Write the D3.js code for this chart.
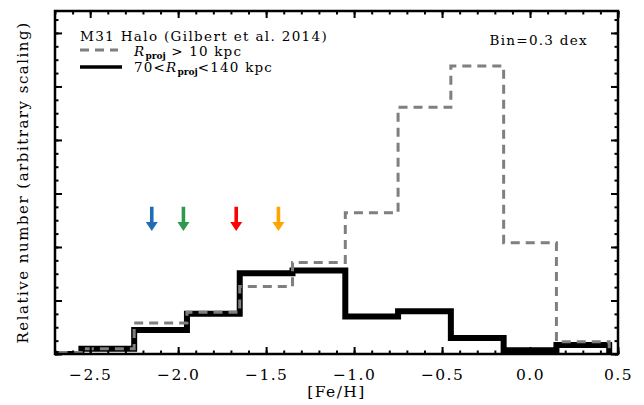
<!DOCTYPE html>
<html>
<head>
<meta charset="utf-8">
<script src="https://cdn.jsdelivr.net/npm/d3@7"></script>
<style>
  body { margin: 0; background: #fff; }
  text { font-family: 'DejaVu Serif', serif; fill: #000; }
</style>
</head>
<body>
<script>
// bin edges in [Fe/H], 0.3 dex wide
const binEdges = [-2.85, -2.55, -2.25, -1.95, -1.65, -1.35, -1.05, -0.75, -0.45, -0.15, 0.15, 0.45]
// R_proj > 10 kpc (grey dashed)
const haloAll = [0.03, 0.10, 0.58, 0.78, 1.26, 1.71, 2.64, 4.61, 5.38, 2.08, 0.23]
// 70 < R_proj < 140 kpc (black)
const haloOuter = [0, 0.10, 0.45, 0.75, 1.51, 1.56, 0.70, 0.80, 0.30, 0.07, 0.17]

const arrowFeH = [-2.15, -1.97, -1.67, -1.43]
const arrowColors = ['#1f6db5', '#2e9a4e', '#ff0000', '#ffa500']

const xTicks = [-2.5, -2.0, -1.5, -1.0, -0.5, 0.0, 0.5]

const margin = { top: 11, right: 26, bottom: 51, left: 55 }
const width = 644 - margin.left - margin.right
const height = 405 - margin.top - margin.bottom

const xScale = d3.scaleLinear().domain([-2.7, 0.5]).range([0, width])
const yScale = d3.scaleLinear().domain([0, 6.41]).range([height, 0])

const svg = d3.select('body').append('svg')
  .attr('width', 644)
  .attr('height', 405)

const g = svg.append('g')
  .attr('transform', 'translate(' + margin.left + ',' + margin.top + ')')

g.append('clipPath').attr('id', 'clip')
  .append('rect').attr('width', width).attr('height', height)

function stepPoints (values) {
  const pts = values.map((v, i) => [binEdges[i], v])
  pts.push([binEdges[binEdges.length - 1], values[values.length - 1]])
  pts.push([binEdges[binEdges.length - 1], 0])
  return pts
}

const line = d3.line()
  .x((d) => xScale(d[0]))
  .y((d) => yScale(d[1]))
  .curve(d3.curveStepAfter)

const plot = g.append('g').attr('clip-path', 'url(#clip)')

plot.append('path')
  .attr('d', line(stepPoints(haloOuter)))
  .attr('fill', 'none')
  .attr('stroke', '#000')
  .attr('stroke-width', 6)

plot.append('path')
  .attr('d', line(stepPoints(haloAll)))
  .attr('fill', 'none')
  .attr('stroke', '#7f7f7f')
  .attr('stroke-width', 3)
  .attr('stroke-dasharray', '9,6')

// arrows
const arrowTop = 2.75
const arrowTip = 2.3
arrowFeH.forEach((feh, i) => {
  const x = xScale(feh)
  const y0 = yScale(arrowTop)
  const y1 = yScale(arrowTip)
  const hw = 6
  const hl = 9
  const sw = 1.8
  const pts = [
    [x - sw, y0], [x + sw, y0], [x + sw, y1 - hl], [x + hw, y1 - hl],
    [x, y1], [x - hw, y1 - hl], [x - sw, y1 - hl]
  ]
  g.append('path')
    .attr('d', d3.line()(pts) + 'Z')
    .attr('fill', arrowColors[i])
})

// axes: ticks inward on all four sides
const xAxisB = d3.axisBottom(xScale).tickValues(xTicks).tickSize(-7).tickPadding(15)
  .tickFormat((d) => d3.format('.1f')(d).replace('-', '\u2212'))
const xMinor = d3.range(-2.7, 0.51, 0.1)
g.append('g').attr('class', 'x axis')
  .attr('transform', 'translate(0,' + height + ')')
  .call(xAxisB)
g.append('g').attr('transform', 'translate(0,' + height + ')')
  .call(d3.axisBottom(xScale).tickValues(xMinor).tickSize(-3.5).tickFormat(''))
g.append('g')
  .call(d3.axisTop(xScale).tickValues(xTicks).tickSize(-7).tickFormat(''))
g.append('g')
  .call(d3.axisTop(xScale).tickValues(xMinor).tickSize(-3.5).tickFormat(''))

const yMajor = d3.range(0, 7, 1)
const yMinor = d3.range(0, 6.41, 0.25)
g.append('g')
  .call(d3.axisLeft(yScale).tickValues(yMajor).tickSize(-7).tickFormat(''))
g.append('g')
  .call(d3.axisLeft(yScale).tickValues(yMinor).tickSize(-3.5).tickFormat(''))
g.append('g').attr('transform', 'translate(' + width + ',0)')
  .call(d3.axisRight(yScale).tickValues(yMajor).tickSize(-7).tickFormat(''))
g.append('g').attr('transform', 'translate(' + width + ',0)')
  .call(d3.axisRight(yScale).tickValues(yMinor).tickSize(-3.5).tickFormat(''))

g.selectAll('.domain').remove()
g.selectAll('.tick line').attr('stroke', '#000').attr('stroke-width', 2)
g.selectAll('.x.axis .tick text')
  .style('font-size', '15.5px')
  .style('letter-spacing', '1.4px')
  .attr('fill', '#000')

g.append('rect')
  .attr('width', width).attr('height', height)
  .attr('fill', 'none').attr('stroke', '#000').attr('stroke-width', 2.5)

// axis labels
g.append('text')
  .attr('x', width / 2).attr('y', height + 43)
  .attr('text-anchor', 'middle')
  .style('font-size', '15.5px')
  .style('letter-spacing', '1.4px')
  .text('[Fe/H]')

svg.append('text')
  .attr('transform', 'translate(28,' + (margin.top + height / 2) + ') rotate(-90)')
  .attr('text-anchor', 'middle')
  .style('font-size', '15px')
  .style('letter-spacing', '1.5px')
  .text('Relative number (arbitrary scaling)')

// legend
const lx = 25
const legendFont = '13.5px'
g.append('text').attr('x', lx).attr('y', 30).style('font-size', legendFont)
  .style('letter-spacing', '1.35px')
  .text('M31 Halo (Gilbert et al. 2014)')
g.append('line').attr('x1', lx).attr('x2', lx + 38).attr('y1', 39).attr('y2', 39)
  .attr('stroke', '#7f7f7f').attr('stroke-width', 3).attr('stroke-dasharray', '9,6')
g.append('line').attr('x1', lx).attr('x2', lx + 42).attr('y1', 56).attr('y2', 56)
  .attr('stroke', '#000').attr('stroke-width', 3.5)

function rprojLabel (y, pre, post) {
  const t = g.append('text').attr('x', lx + 54).attr('y', y).style('font-size', legendFont)
    .style('letter-spacing', '1.2px')
  t.append('tspan').text(pre)
  t.append('tspan').style('font-style', 'italic').text('R')
  t.append('tspan').attr('dy', 3).style('font-size', '9px').style('font-weight', 'bold')
    .style('letter-spacing', '0px').text('proj')
  t.append('tspan').attr('dy', -3).text(post)
}
rprojLabel(44.5, '', ' > 10 kpc')
rprojLabel(61, '70<', '<140 kpc')

g.append('text').attr('x', 533).attr('y', 34).attr('text-anchor', 'end')
  .style('font-size', legendFont)
  .style('letter-spacing', '1.3px')
  .text('Bin=0.3 dex')
</script>
</body>
</html>
